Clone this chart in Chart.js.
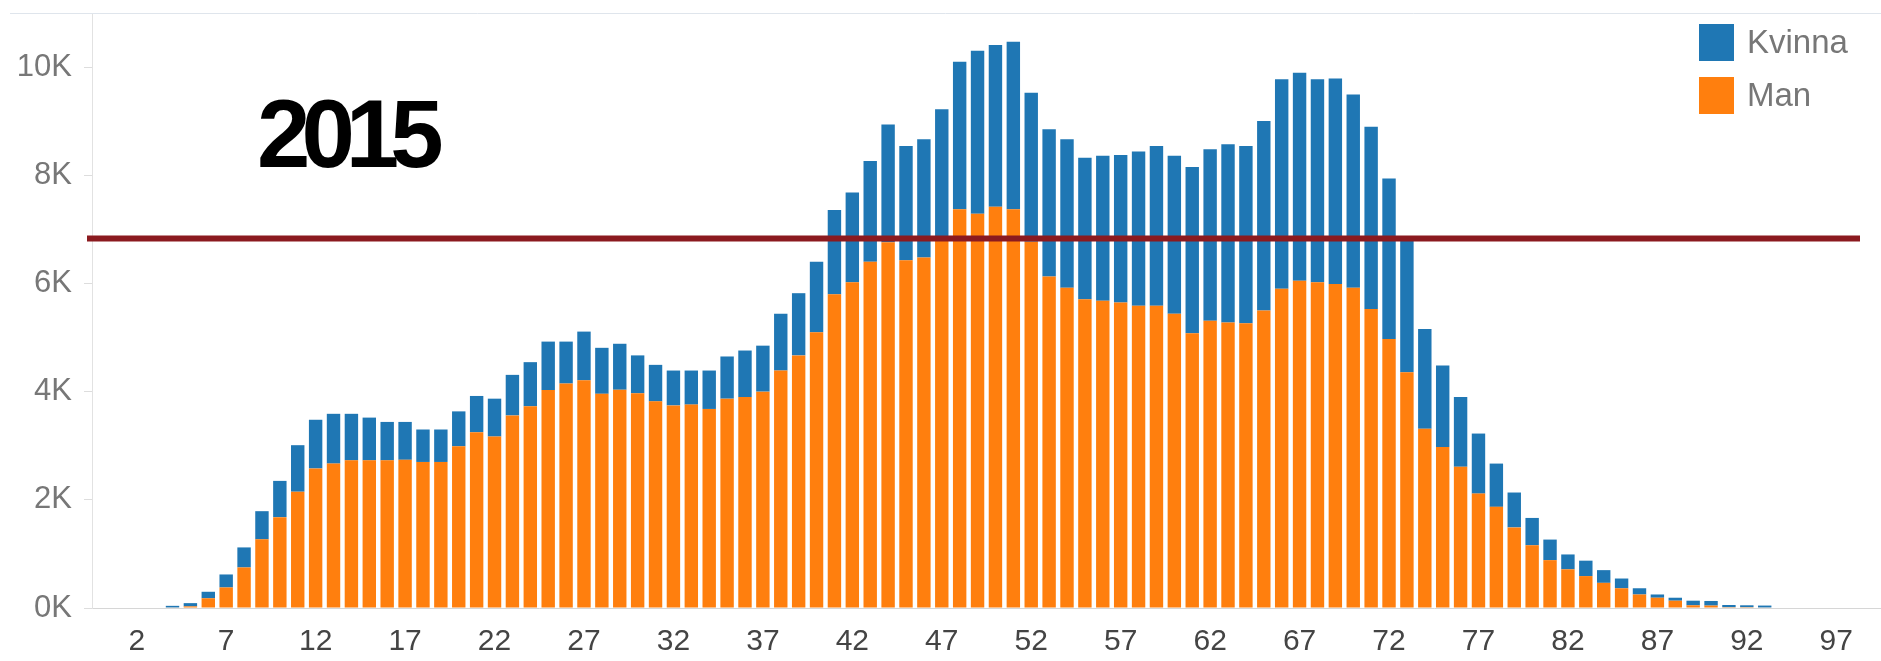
<!DOCTYPE html>
<html lang="sv">
<head>
<meta charset="UTF-8" />
<title>2015</title>
<script src="https://cdn.jsdelivr.net/npm/chart.js@4/dist/chart.umd.min.js"></script>
<style>
  html, body { margin: 0; padding: 0; background: #fff; }
  #wrap { width: 1881px; height: 661px; position: relative; }
</style>
</head>
<body>
<div id="wrap"><canvas id="c"></canvas></div>
<script>
// ålder 0..99
const ages = Array.from({ length: 100 }, (_, i) => String(i));

// antal män per ålder (nedre stapeln)
const man = [
  0, 0, 0, 0, 10, 30, 180, 380, 750, 1270,
  1680, 2150, 2580, 2670, 2730, 2730, 2730, 2740, 2700, 2700,
  2990, 3250, 3170, 3560, 3730, 4030, 4150, 4210, 3960, 4035,
  3970, 3820, 3745, 3760, 3680, 3870, 3900, 4000, 4390, 4670,
  5100, 5800, 6020, 6400, 6760, 6430, 6480, 6800, 7370, 7290,
  7420, 7370, 6770, 6130, 5920, 5710, 5680, 5650, 5590, 5590,
  5440, 5080, 5310, 5280, 5265, 5500, 5900, 6050, 6020, 5990,
  5920, 5530, 4975, 4360, 3315, 2975, 2610, 2115, 1870, 1490,
  1160, 885, 715, 590, 465, 365, 250, 190, 135, 50,
  45, 15, 15, 10, 0, 0, 0, 0, 0, 0
];

// antal kvinnor per ålder (övre stapeln)
const kvinna = [
  0, 0, 0, 0, 30, 60, 120, 240, 370, 520,
  670, 860, 900, 920, 860, 790, 710, 700, 600, 600,
  645, 670, 700, 750, 815, 895, 775, 900, 850, 850,
  700, 675, 645, 630, 710, 780, 860, 850, 1050, 1150,
  1300, 1560, 1660, 1865, 2180, 2110, 2185, 2420, 2730, 3010,
  2990, 3100, 2755, 2720, 2745, 2615, 2680, 2725, 2850, 2950,
  2920, 3075, 3170, 3295, 3275, 3505, 3875, 3845, 3755, 3800,
  3575, 3365, 2965, 2490, 1845, 1510, 1290, 1110, 800, 645,
  505, 380, 275, 285, 235, 180, 115, 60, 55, 85,
  85, 40, 35, 35, 0, 0, 0, 0, 0, 0
];

const yTickValues = [0, 2000, 4000, 6000, 8000, 10000];
const yTickLabels = ["0K", "2K", "4K", "6K", "8K", "10K"];
const xTickLabels = ["2", "7", "12", "17", "22", "27", "32", "37", "42", "47", "52", "57", "62", "67", "72", "77", "82", "87", "92", "97"];
const referenceValue = 6830;
const yearText = "2015";

const BLUE = "#1f77b4";
const ORANGE = "#ff7f0e";

// extra ritning: årtal, referenslinje, legend, ram upptill
const overlay = {
  id: "overlay",
  beforeDatasetsDraw(chart) {
    const { ctx, chartArea } = chart;
    ctx.save();
    ctx.strokeStyle = "#dfe5ec";
    ctx.lineWidth = 1;
    ctx.beginPath();
    ctx.moveTo(10, chartArea.top + 0.5);
    ctx.lineTo(chart.width, chartArea.top + 0.5);
    ctx.stroke();
    ctx.restore();
  },
  afterDatasetsDraw(chart) {
    const { ctx, chartArea, scales } = chart;
    ctx.save();

    // referenslinje
    const y = scales.y.getPixelForValue(referenceValue);
    ctx.strokeStyle = "#8b1a1f";
    ctx.lineWidth = 6;
    ctx.beginPath();
    ctx.moveTo(chartArea.left - 5, y);
    ctx.lineTo(chart.width - 21, y);
    ctx.stroke();

    // årtal
    ctx.fillStyle = "#000";
    ctx.font = "bold 96px 'Liberation Sans', Arial, sans-serif";
    ctx.textAlign = "left";
    ctx.textBaseline = "alphabetic";
    ctx.letterSpacing = "-9px";
    ctx.fillText(yearText, 257, 167);
    ctx.letterSpacing = "0px";

    // legend (Kvinna överst)
    const items = [chart.data.datasets[1], chart.data.datasets[0]];
    ctx.font = "33px 'Liberation Sans', Arial, sans-serif";
    ctx.textBaseline = "middle";
    items.forEach((ds, i) => {
      const top = 24 + i * 53;
      ctx.fillStyle = ds.backgroundColor;
      ctx.fillRect(1699, top, 35, 37);
      ctx.fillStyle = "#777";
      ctx.fillText(ds.label, 1747, top + 20);
    });
    ctx.restore();
  },
};

new Chart(document.getElementById("c"), {
  type: "bar",
  data: {
    labels: ages,
    datasets: [
      { label: "Man", data: man, backgroundColor: ORANGE, stack: "s" },
      { label: "Kvinna", data: kvinna, backgroundColor: BLUE, stack: "s" },
    ],
  },
  options: {
    responsive: true,
    maintainAspectRatio: false,
    animation: false,
    layout: { padding: { top: 13, right: 0, left: 0, bottom: 0 } },
    datasets: {
      bar: { barPercentage: 0.75, categoryPercentage: 1.0 },
    },
    plugins: {
      legend: { display: false },
      tooltip: { enabled: false },
    },
    scales: {
      x: {
        stacked: true,
        grid: { display: false },
        border: { color: "#d6d6d6" },
        ticks: {
          autoSkip: false,
          maxRotation: 0,
          padding: 8,
          color: "#444",
          font: { family: "'Liberation Sans', Arial, sans-serif", size: 30 },
          callback: (v, i) => (xTickLabels.includes(ages[i]) ? ages[i] : ""),
        },
        afterFit: (s) => { s.height = 53; s.paddingLeft = 0; s.paddingRight = 0; },
      },
      y: {
        stacked: true,
        min: 0,
        max: 11000,
        afterBuildTicks: (s) => { s.ticks = yTickValues.map((v) => ({ value: v })); },
        grid: { drawOnChartArea: false, tickLength: 8, color: "#ddd" },
        border: { color: "#e2e2e2" },
        ticks: {
          padding: 12,
          color: "#777",
          font: { family: "'Liberation Sans', Arial, sans-serif", size: 31 },
          callback: (v) => yTickLabels[yTickValues.indexOf(v)],
        },
        afterFit: (s) => { s.width = 92; s.paddingTop = 0; s.paddingBottom = 0; },
      },
    },
  },
  plugins: [overlay],
});
</script>
</body>
</html>
